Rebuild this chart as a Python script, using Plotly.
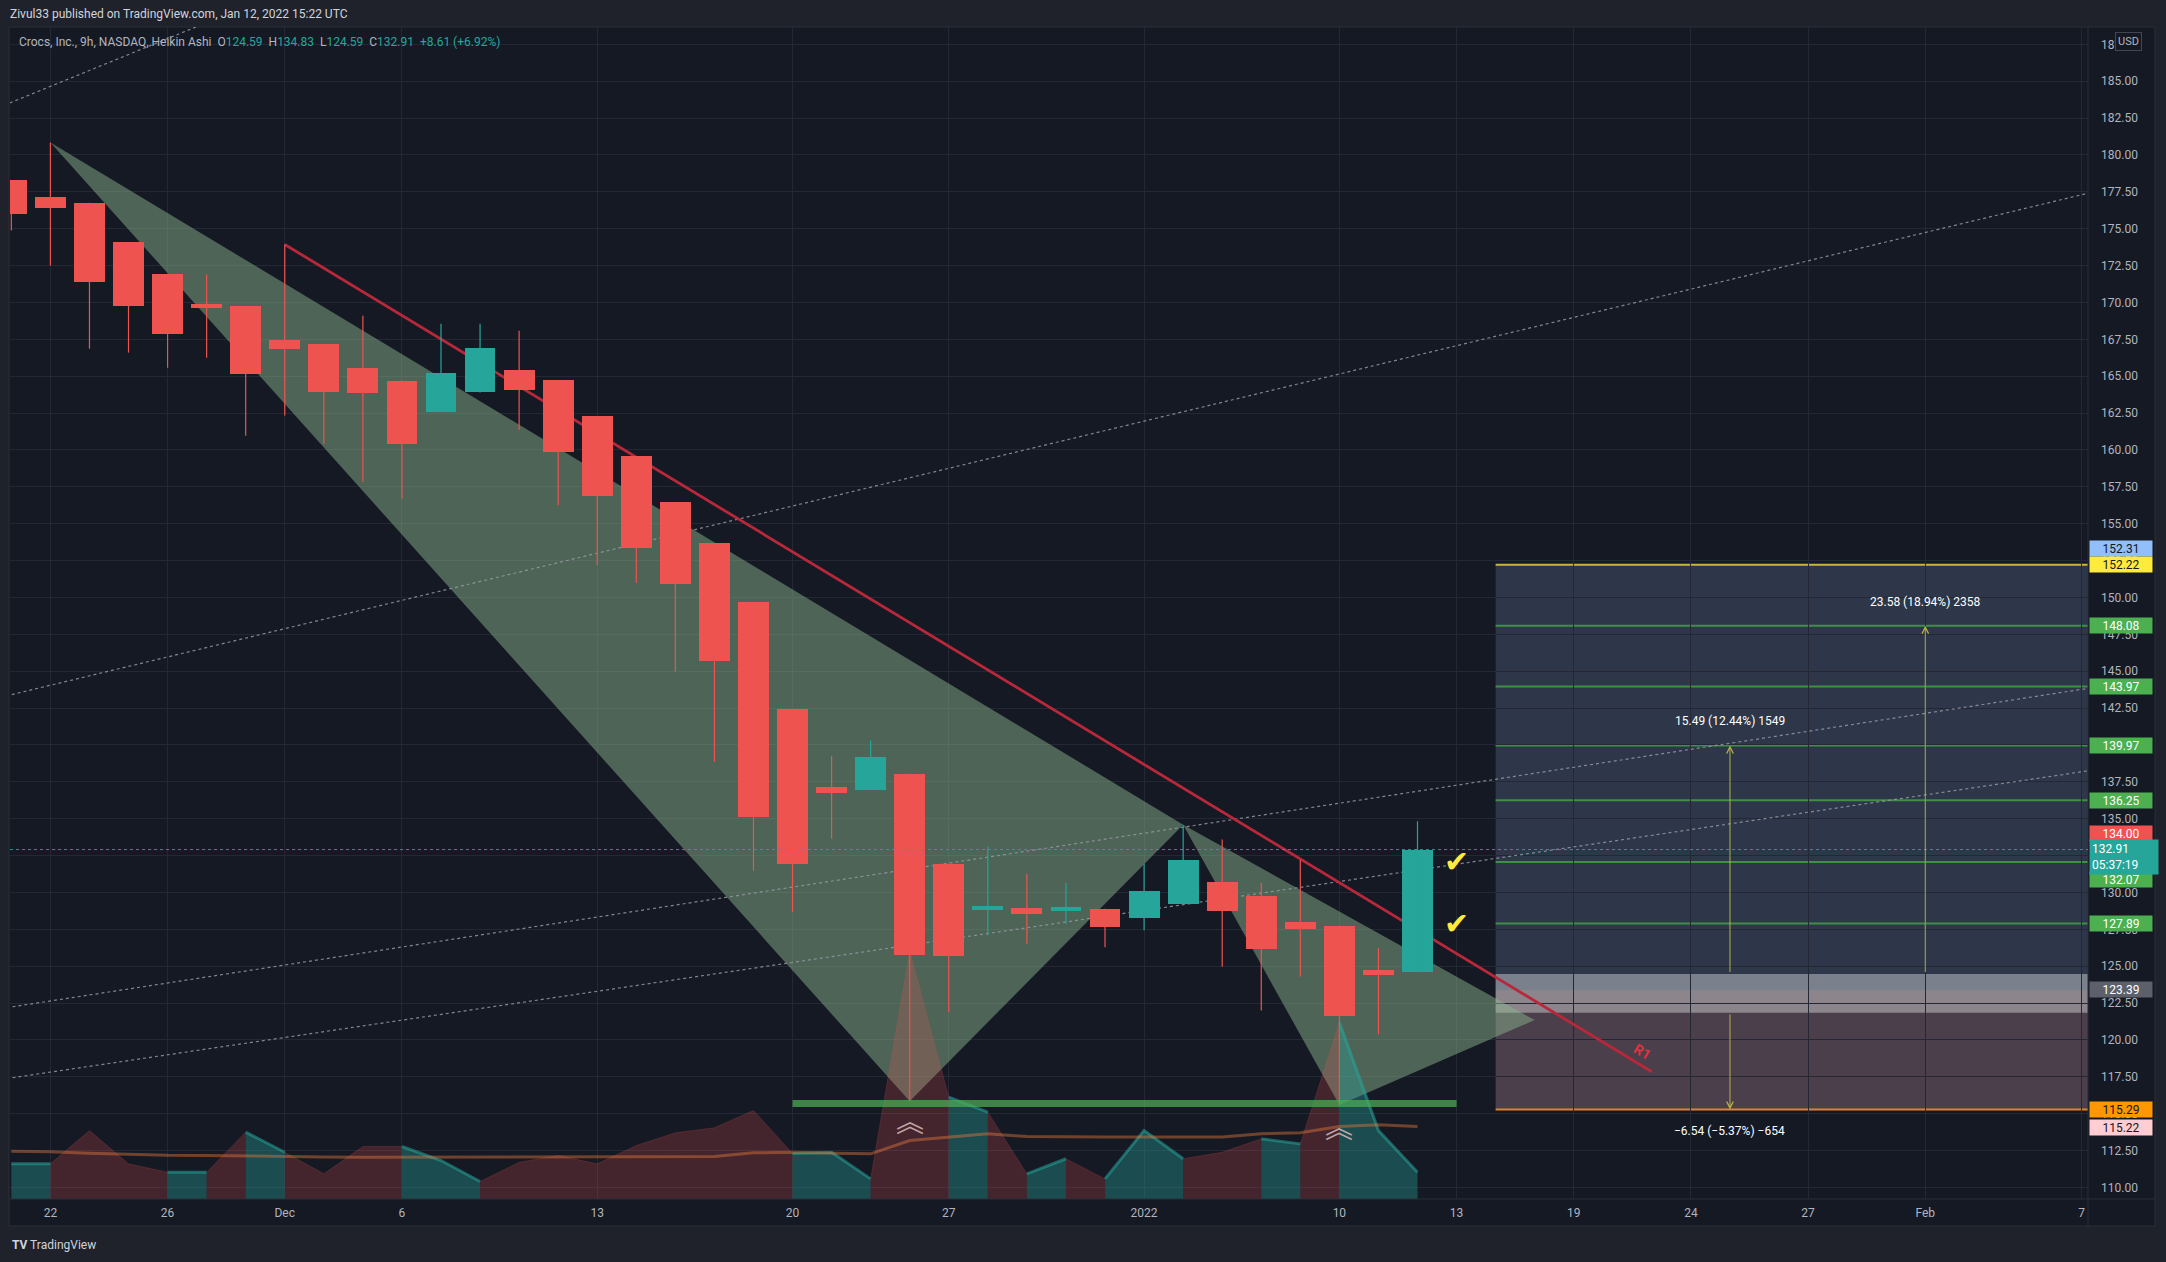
import plotly.graph_objects as go

W, H = 2166, 1262

# ---------------- data ----------------
sessions = ["2021-11-19", "2021-11-22", "2021-11-23", "2021-11-24", "2021-11-26", "2021-11-29", "2021-11-30",
            "2021-12-01", "2021-12-02", "2021-12-03", "2021-12-06", "2021-12-07", "2021-12-08", "2021-12-09",
            "2021-12-10", "2021-12-13", "2021-12-14", "2021-12-15", "2021-12-16", "2021-12-17", "2021-12-20",
            "2021-12-21", "2021-12-22", "2021-12-23", "2021-12-27", "2021-12-28", "2021-12-29", "2021-12-30",
            "2021-12-31", "2022-01-03", "2022-01-04", "2022-01-05", "2022-01-06", "2022-01-07", "2022-01-10",
            "2022-01-11", "2022-01-12", "2022-01-13", "2022-01-14", "2022-01-18", "2022-01-19", "2022-01-20",
            "2022-01-21", "2022-01-24", "2022-01-25", "2022-01-26", "2022-01-27", "2022-01-28", "2022-01-31",
            "2022-02-01", "2022-02-02", "2022-02-03", "2022-02-04", "2022-02-07", "2022-02-08"]

tick_labels = {"2021-11-22": "22", "2021-11-26": "26", "2021-12-01": "Dec", "2021-12-06": "6",
               "2021-12-13": "13", "2021-12-20": "20", "2021-12-27": "27", "2022-01-03": "2022",
               "2022-01-10": "10", "2022-01-13": "13", "2022-01-19": "19", "2022-01-24": "24",
               "2022-01-27": "27", "2022-02-01": "Feb", "2022-02-07": "7"}

# Heikin Ashi candles, one per session (first 37 sessions)
ha_open = [178.28, 177.13, 176.76, 174.09, 171.94, 169.89, 169.75, 167.45, 167.16, 165.55, 164.71, 162.55,
           163.90, 165.41, 164.74, 162.30, 159.58, 156.48, 153.70, 149.71, 142.42, 137.16, 136.95, 138.06,
           131.90, 128.80, 128.94, 128.75, 128.89, 128.29, 129.20, 130.70, 129.74, 127.97, 127.74, 124.75,
           124.59]
ha_high = [178.28, 180.85, 176.76, 174.09, 171.94, 171.89, 169.75, 173.93, 167.16, 169.10, 164.71, 168.56,
           168.56, 168.09, 164.74, 162.30, 159.58, 156.48, 153.70, 149.71, 142.42, 139.24, 140.31, 138.06,
           131.90, 133.10, 131.27, 130.64, 128.89, 131.97, 134.60, 133.59, 130.64, 132.21, 127.74, 126.22,
           134.83]
ha_low = [174.88, 172.50, 166.86, 166.60, 165.57, 166.25, 160.97, 162.33, 160.40, 157.84, 156.69, 162.55,
          163.90, 161.36, 156.26, 152.20, 151.00, 144.97, 138.86, 131.47, 128.68, 133.64, 136.95, 115.85,
          121.90, 127.10, 126.53, 127.88, 126.28, 127.44, 129.20, 124.97, 122.00, 124.30, 115.60, 120.39,
          124.59]
ha_close = [175.97, 176.38, 171.42, 169.78, 167.84, 169.60, 165.16, 166.86, 163.94, 163.87, 160.40, 165.24,
            166.93, 164.07, 159.85, 156.87, 153.37, 150.93, 145.71, 135.13, 131.90, 136.74, 139.17, 125.75,
            125.70, 129.08, 128.56, 129.03, 127.68, 130.10, 132.21, 128.77, 126.19, 127.50, 121.60, 124.43,
            132.91]

# volume (millions) and its moving average
volume = [2.01, 2.01, 3.91, 2.01, 1.53, 1.53, 3.82, 2.67, 1.44, 3.00, 3.00, 2.20, 1.00, 2.10, 2.49, 2.01,
          3.06, 3.78, 4.07, 5.06, 2.60, 2.67, 1.15, 14.20, 5.82, 4.96, 1.44, 2.30, 1.15, 3.91, 2.30, 2.67,
          3.44, 3.15, 10.10, 3.91, 1.53]
vol_up = [False, True, False, False, False, True, False, True, False, False, False, True, True, False,
          False, False, False, False, False, False, False, True, True, False, False, True, False, True,
          False, True, True, False, False, True, False, True, True]
vol_ma = [2.73, 2.70, 2.62, 2.55, 2.50, 2.49, 2.45, 2.42, 2.40, 2.39, 2.39, 2.39, 2.39, 2.39, 2.39, 2.39,
          2.40, 2.41, 2.43, 2.64, 2.67, 2.62, 2.58, 3.34, 3.53, 3.73, 3.57, 3.54, 3.54, 3.55, 3.54, 3.55,
          3.73, 3.78, 4.14, 4.24, 4.14]

# drawings (date, price)
pattern_pts = [("2021-11-22", 180.85), ("2021-12-23", 115.85), ("2022-01-04", 134.60),
               ("2022-01-10", 115.60), ("2022-01-18", 121.35)]
trend_r1 = [("2021-12-01", 173.93), ("2022-01-21", 117.85)]
channel_lines = [[("2021-11-19", 183.57), ("2021-11-26", 187.89)],
                 [("2021-11-19", 143.41), ("2022-02-07", 177.30)],
                 [("2021-11-19", 122.24), ("2022-02-07", 143.77)],
                 [("2021-11-19", 117.43), ("2022-02-07", 138.18)]]
support_line = [("2021-12-20", 115.70), ("2022-01-13", 115.70)]
chevron_marks = [("2021-12-23", 114.55), ("2022-01-10", 114.20)]
check_marks = [("2022-01-13", 132.07), ("2022-01-13", 127.89)]
last_price = 132.91

pos_start = "2022-01-14"
pos_entry, pos_target, pos_stop = 123.39, 152.22, 115.29
pos_levels = [148.08, 143.97, 139.97, 136.25, 132.07, 127.89]
pos_band = (121.84, 124.47)
measures = [("2022-01-25", 124.50, 139.97, "15.49 (12.44%) 1549"),
            ("2022-02-01", 124.50, 148.08, "23.58 (18.94%) 2358"),
            ("2022-01-25", 121.84, 115.29, "\u22126.54 (\u22125.37%) \u2212654")]

axis_tags = [("152.31", 152.31, "#90bff9", "#131722", 15),
             ("152.22", 152.22, "#ffeb3b", "#131722", 0),
             ("148.08", 148.08, "#4caf50", "#ffffff", 0),
             ("143.97", 143.97, "#4caf50", "#ffffff", 0),
             ("139.97", 139.97, "#4caf50", "#ffffff", 0),
             ("136.25", 136.25, "#4caf50", "#ffffff", 0),
             ("134.00", 134.00, "#ef5350", "#ffffff", 0),
             ("132.07", 132.07, "#4caf50", "#ffffff", -18),
             ("127.89", 127.89, "#4caf50", "#ffffff", 0),
             ("123.39", 123.39, "#5d606b", "#ffffff", 0),
             ("115.29", 115.29, "#ff9800", "#131722", 0),
             ("115.22", 115.22, "#ffcdd2", "#131722", -17)]

# ---------------- helpers ----------------
idx = {d: i for i, d in enumerate(sessions)}
BG = "#151924"
PAGE = "#1f222b"
GRID = "#242835"
TXT = "#b2b5be"
UP = "#26a69a"
DN = "#ef5350"
FONT = "Roboto, Liberation Sans, sans-serif"

L, R, T, B = 10, 2088, 27, 1199
px_per_bar = 39.06
x_range = [-(11.34 - L) / px_per_bar, (R - 11.34) / px_per_bar]
y_range = [109.22, 188.675]
vol_range = [0, (B - T) / 17.5]


def px(x):
    return x / W


def py(y):
    return 1 - y / H


fig = go.Figure()

# triangles (pattern)
for tri in (pattern_pts[0:3], pattern_pts[2:5]):
    xs = [idx[d] for d, _ in tri] + [idx[tri[0][0]]]
    ys = [p for _, p in tri] + [tri[0][1]]
    fig.add_trace(go.Scatter(x=xs, y=ys, mode="lines", fill="toself",
                             fillcolor="rgba(140,184,142,0.47)", line=dict(width=0),
                             hoverinfo="skip", showlegend=False))

# dotted channel lines, extended to the plot edges
for (d0, p0), (d1, p1) in channel_lines:
    x0, x1 = idx[d0], idx[d1]
    k = (p1 - p0) / (x1 - x0)
    xa, xb = x_range[0] - 1, x_range[1] + 1
    fig.add_trace(go.Scatter(x=[xa, xb], y=[p0 + k * (xa - x0), p0 + k * (xb - x0)], mode="lines",
                             line=dict(color="rgba(150,153,163,0.85)", width=1.2, dash="dot"),
                             hoverinfo="skip", showlegend=False))

# R1 trend line
fig.add_trace(go.Scatter(x=[idx[d] for d, _ in trend_r1], y=[p for _, p in trend_r1], mode="lines",
                         line=dict(color="#b8283a", width=2.8), hoverinfo="skip", showlegend=False))

# volume area (colored runs) on y2
runs = []
i = 1
while i < len(volume):
    up = vol_up[i]
    j = i
    while j + 1 < len(volume) and vol_up[j + 1] == up:
        j += 1
    runs.append((i - 1, j, up))
    i = j + 1
for a, b, up in runs:
    xs = list(range(a, b + 1))
    ys = volume[a:b + 1]
    fig.add_trace(go.Scatter(
        x=xs, y=ys, yaxis="y2", mode="lines", fill="tozeroy",
        fillcolor="rgba(38,166,154,0.36)" if up else "rgba(239,83,80,0.22)",
        line=dict(color="rgba(38,166,154,0.55)" if up else "rgba(239,83,80,0.18)",
                  width=3 if up else 1),
        hoverinfo="skip", showlegend=False))
fig.add_trace(go.Scatter(x=list(range(len(vol_ma))), y=vol_ma, yaxis="y2", mode="lines",
                         line=dict(color="rgba(235,125,60,0.42)", width=3),
                         hoverinfo="skip", showlegend=False))

# candles on y3
n = len(ha_open)
cx = list(range(n))
up_c = [ha_close[k] >= ha_open[k] for k in range(n)]
for flag, col in ((True, UP), (False, DN)):
    wx, wy = [], []
    for k in range(n):
        if up_c[k] == flag:
            wx += [cx[k], cx[k], None]
            wy += [ha_low[k], ha_high[k], None]
    fig.add_trace(go.Scatter(x=wx, y=wy, yaxis="y3", mode="lines", line=dict(color=col, width=1.2),
                             hoverinfo="skip", showlegend=False))
fig.add_trace(go.Bar(x=cx, base=[min(ha_open[k], ha_close[k]) for k in range(n)],
                     y=[abs(ha_close[k] - ha_open[k]) for k in range(n)], yaxis="y3",
                     width=0.79, marker=dict(color=[UP if u else DN for u in up_c], line=dict(width=0)),
                     hoverinfo="skip", showlegend=False))

# ---------------- shapes ----------------
shapes = []
# chart container and separators
shapes.append(dict(type="rect", xref="paper", yref="paper", x0=px(9), x1=px(2155), y0=py(1226), y1=py(27),
                   fillcolor=BG, line=dict(color="#2a2e39", width=1), layer="below"))
shapes.append(dict(type="line", xref="paper", yref="paper", x0=px(R), x1=px(R), y0=py(1226), y1=py(27),
                   line=dict(color="#2a2e39", width=1)))
shapes.append(dict(type="line", xref="paper", yref="paper", x0=px(9), x1=px(2155), y0=py(B), y1=py(B),
                   line=dict(color="#2a2e39", width=1)))

# long position tool
xs0 = idx[pos_start]
xe = x_range[1]
shapes.append(dict(type="rect", xref="x", yref="y", x0=xs0, x1=xe, y0=pos_entry, y1=pos_target,
                   fillcolor="rgba(95,118,150,0.33)", line=dict(width=0), layer="below"))
shapes.append(dict(type="rect", xref="x", yref="y", x0=xs0, x1=xe, y0=pos_stop, y1=pos_entry,
                   fillcolor="rgba(170,130,140,0.36)", line=dict(width=0), layer="below"))
shapes.append(dict(type="rect", xref="x", yref="y", x0=xs0, x1=xe, y0=pos_band[0], y1=pos_band[1],
                   fillcolor="rgba(255,255,255,0.37)", line=dict(width=0), layer="below"))
for lv in pos_levels:
    shapes.append(dict(type="line", xref="x", yref="y", x0=xs0, x1=xe, y0=lv, y1=lv,
                       line=dict(color="#3f8f45", width=2), layer="below"))
shapes.append(dict(type="line", xref="x", yref="y", x0=xs0, x1=xe, y0=pos_target, y1=pos_target,
                   line=dict(color="#c9b73c", width=2), layer="below"))
shapes.append(dict(type="line", xref="x", yref="y", x0=xs0, x1=xe, y0=pos_stop, y1=pos_stop,
                   line=dict(color="#dc862a", width=2), layer="below"))

# support line
shapes.append(dict(type="line", xref="x", yref="y", x0=idx[support_line[0][0]], x1=idx[support_line[1][0]],
                   y0=support_line[0][1], y1=support_line[1][1],
                   line=dict(color="rgba(76,175,80,0.72)", width=7), layer="above"))
# last price line
shapes.append(dict(type="line", xref="x domain", yref="y", x0=0, x1=1, y0=last_price, y1=last_price,
                   line=dict(color="rgba(38,166,154,0.9)", width=1, dash="dot"), layer="above"))

# ---------------- annotations ----------------
ann = []
ann.append(dict(xref="paper", yref="paper", x=px(8), y=py(14), xanchor="left", yanchor="middle",
                text="Zivul33 published on TradingView.com, Jan 12, 2022 15:22 UTC", showarrow=False,
                font=dict(family=FONT, size=12, color="#d1d4dc")))
tv = '<span style="color:%s">' % UP
ann.append(dict(xref="paper", yref="paper", x=px(17), y=py(42), xanchor="left", yanchor="middle",
                text=("Crocs, Inc., 9h, NASDAQ, Heikin Ashi  O" + tv + "124.59</span>  H" + tv + "134.83</span>"
                      "  L" + tv + "124.59</span>  C" + tv + "132.91</span>  " + tv + "+8.61 (+6.92%)</span>"),
                showarrow=False, font=dict(family=FONT, size=12, color=TXT)))
ann.append(dict(xref="paper", yref="paper", x=px(10), y=py(1245), xanchor="left", yanchor="middle",
                text="<b>TV</b> TradingView", showarrow=False,
                font=dict(family=FONT, size=12, color="#d1d4dc")))
ann.append(dict(xref="paper", yref="paper", x=px(2128), y=py(42), xanchor="center", yanchor="middle",
                text="USD", showarrow=False, bgcolor=BG, bordercolor="#434651", borderwidth=1, borderpad=2,
                font=dict(family=FONT, size=11, color=TXT)))

# price axis tags
for txt, p, bg, fg, shift in axis_tags:
    ann.append(dict(xref="paper", yref="y", x=px(R + 1), y=p, xanchor="left", yanchor="middle",
                    yshift=shift, text=txt, showarrow=False, bgcolor=bg, borderpad=1, width=60, height=13,
                    align="center", font=dict(family=FONT, size=12, color=fg)))
ann.append(dict(xref="paper", yref="y", x=px(R + 1), y=last_price, xanchor="left", yanchor="middle",
                yshift=-7, text="132.91<br>05:37:19", showarrow=False, bgcolor=UP, borderpad=2, width=64,
                align="left", font=dict(family=FONT, size=12, color="#ffffff")))

# R1 label
ann.append(dict(xref="x", yref="y", x=41.77, y=119.2, text="<b>R1</b>", showarrow=False, textangle=31,
                font=dict(family=FONT, size=14, color="#e0323f")))

# measurement arrows and texts
for d, p0, p1, label in measures:
    ann.append(dict(xref="x", yref="y", axref="x", ayref="y", x=idx[d], y=p1, ax=idx[d], ay=p0, text="",
                    showarrow=True, arrowhead=5, arrowsize=1.3, arrowwidth=1,
                    arrowcolor="rgba(200,190,70,0.9)"))
    ann.append(dict(xref="x", yref="y", x=idx[d], y=p1, text=label, showarrow=False,
                    yshift=24 if p1 > p0 else -22,
                    font=dict(family=FONT, size=12, color="#ffffff")))

# check marks and chevrons
for d, p in check_marks:
    ann.append(dict(xref="x", yref="y", x=idx[d], y=p, text="\u2714", showarrow=False,
                    font=dict(family="DejaVu Sans", size=30, color="#ffeb3b")))
for d, p in chevron_marks:
    ann.append(dict(xref="x", yref="y", x=idx[d], y=p, text="\ufe3d", showarrow=False,
                    font=dict(family="Noto Sans CJK SC", size=28, color="rgba(215,185,185,0.85)")))

# ---------------- layout ----------------
tickvals = [idx[d] for d in tick_labels]
ticktext = list(tick_labels.values())

fig.update_layout(
    width=W, height=H, margin=dict(l=0, r=0, t=0, b=0),
    paper_bgcolor=PAGE, plot_bgcolor=BG, showlegend=False, bargap=0,
    font=dict(family=FONT, color=TXT, size=12),
    xaxis=dict(domain=[px(L), px(R)], range=x_range, tickvals=tickvals, ticktext=ticktext,
               showgrid=True, gridcolor=GRID, gridwidth=1, zeroline=False, showline=False, ticks="",
               tickfont=dict(family=FONT, size=12, color=TXT), fixedrange=True, ticklabelstandoff=5),
    yaxis=dict(domain=[py(B), py(T)], range=y_range, side="right", tick0=110, dtick=2.5,
               tickformat=".2f", showgrid=True, gridcolor=GRID, gridwidth=1, zeroline=False,
               showline=False, ticks="", ticklabelstandoff=12,
               tickfont=dict(family=FONT, size=12, color=TXT), fixedrange=True),
    yaxis2=dict(overlaying="y", range=vol_range, visible=False, fixedrange=True),
    yaxis3=dict(overlaying="y", range=y_range, visible=False, fixedrange=True),
    shapes=shapes, annotations=ann,
)

fig.write_html("out.html", include_plotlyjs=True, full_html=True, config={"displayModeBar": False},
               post_script="document.body.style.margin='0';document.body.style.overflow='hidden';")
